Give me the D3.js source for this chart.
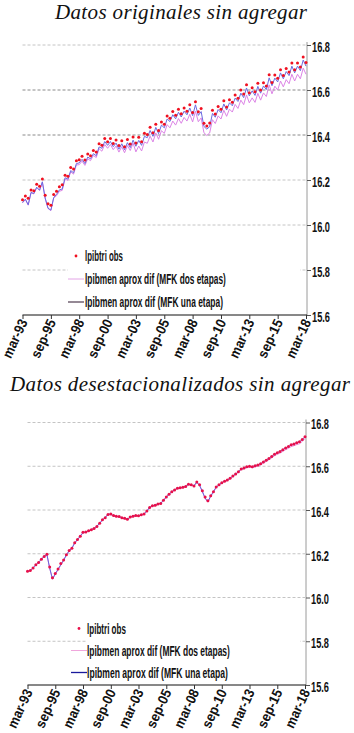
<!DOCTYPE html>
<html>
<head>
<meta charset="utf-8">
<script src="https://cdnjs.cloudflare.com/ajax/libs/d3/7.8.5/d3.min.js"></script>
<style>
    body { margin: 0; background: #fff; }
    svg { display: block; }
</style>
</head>
<body>
<div id="chart"></div>
<script>
// tick labels for the date axis (one every 30 months) and the value axis
const tickLabels = ["mar-93", "sep-95", "mar-98", "sep-00", "mar-03", "sep-05", "mar-08", "sep-10", "mar-13", "sep-15", "mar-18"];
const yTicks = [15.6, 15.8, 16.0, 16.2, 16.4, 16.6, 16.8];

// Panel 1: datos originales (quarterly points from mar-93 to mar-18)
const obsOriginal = [
    16.112, 16.129, 16.119, 16.156, 16.152, 16.181, 16.172, 16.204, 16.132, 16.094, 16.088, 16.136,
    16.150, 16.170, 16.179, 16.221, 16.217, 16.256, 16.249, 16.286, 16.290, 16.306, 16.289, 16.316,
    16.308, 16.331, 16.324, 16.361, 16.355, 16.385, 16.370, 16.385, 16.362, 16.378, 16.353, 16.375,
    16.348, 16.380, 16.360, 16.391, 16.364, 16.390, 16.370, 16.408, 16.402, 16.434, 16.410, 16.448,
    16.420, 16.458, 16.448, 16.485, 16.474, 16.504, 16.488, 16.515, 16.494, 16.520, 16.506, 16.534,
    16.500, 16.548, 16.503, 16.518, 16.452, 16.440, 16.453, 16.510, 16.493, 16.527, 16.515, 16.552,
    16.525, 16.557, 16.546, 16.578, 16.563, 16.600, 16.582, 16.623, 16.588, 16.610, 16.592, 16.630,
    16.600, 16.632, 16.618, 16.668, 16.633, 16.667, 16.652, 16.690, 16.664, 16.696, 16.680, 16.720,
    16.690, 16.720, 16.702, 16.747, 16.722
];
const dosEtapasOriginal = [
    16.098, 16.113, 16.088, 16.143, 16.138, 16.166, 16.153, 16.190, 16.118, 16.073, 16.064, 16.120,
    16.130, 16.150, 16.154, 16.204, 16.198, 16.236, 16.226, 16.267, 16.268, 16.284, 16.265, 16.294,
    16.286, 16.309, 16.300, 16.339, 16.328, 16.358, 16.341, 16.358, 16.335, 16.351, 16.324, 16.348,
    16.321, 16.353, 16.331, 16.364, 16.325, 16.351, 16.329, 16.369, 16.363, 16.395, 16.369, 16.409,
    16.381, 16.419, 16.407, 16.446, 16.432, 16.462, 16.444, 16.473, 16.452, 16.478, 16.462, 16.492,
    16.458, 16.506, 16.459, 16.476, 16.410, 16.398, 16.409, 16.468, 16.451, 16.485, 16.471, 16.510,
    16.483, 16.515, 16.502, 16.536, 16.518, 16.555, 16.535, 16.578, 16.543, 16.565, 16.545, 16.585,
    16.555, 16.587, 16.571, 16.623, 16.583, 16.617, 16.600, 16.640, 16.614, 16.646, 16.628, 16.670,
    16.640, 16.670, 16.650, 16.697, 16.670
];
const unaEtapaOriginal = [
    16.100, 16.115, 16.090, 16.145, 16.140, 16.168, 16.155, 16.192, 16.120, 16.075, 16.066, 16.122,
    16.136, 16.156, 16.160, 16.210, 16.204, 16.242, 16.232, 16.273, 16.276, 16.292, 16.273, 16.302,
    16.294, 16.317, 16.308, 16.347, 16.341, 16.371, 16.354, 16.371, 16.348, 16.364, 16.337, 16.361,
    16.334, 16.366, 16.344, 16.377, 16.350, 16.376, 16.354, 16.394, 16.388, 16.420, 16.394, 16.434,
    16.406, 16.444, 16.432, 16.471, 16.460, 16.490, 16.472, 16.501, 16.480, 16.506, 16.490, 16.520,
    16.486, 16.534, 16.487, 16.504, 16.438, 16.426, 16.437, 16.496, 16.479, 16.513, 16.499, 16.538,
    16.511, 16.543, 16.530, 16.564, 16.549, 16.586, 16.566, 16.609, 16.574, 16.596, 16.576, 16.616,
    16.586, 16.618, 16.602, 16.654, 16.619, 16.653, 16.636, 16.676, 16.650, 16.682, 16.664, 16.706,
    16.676, 16.706, 16.686, 16.733, 16.706
];

// Panel 2: datos desestacionalizados
const obsDesest = [
    16.120, 16.123, 16.135, 16.150, 16.160, 16.175, 16.188, 16.198, 16.140, 16.090, 16.110, 16.130,
    16.155, 16.172, 16.195, 16.215, 16.225, 16.250, 16.265, 16.280, 16.298, 16.300, 16.305, 16.310,
    16.316, 16.325, 16.340, 16.355, 16.365, 16.380, 16.382, 16.375, 16.372, 16.370, 16.365, 16.362,
    16.358, 16.368, 16.372, 16.375, 16.374, 16.378, 16.382, 16.395, 16.412, 16.420, 16.422, 16.428,
    16.430, 16.445, 16.460, 16.472, 16.484, 16.492, 16.500, 16.502, 16.504, 16.508, 16.518, 16.515,
    16.510, 16.528, 16.515, 16.488, 16.460, 16.442, 16.465, 16.484, 16.505, 16.515, 16.525, 16.532,
    16.537, 16.545, 16.556, 16.565, 16.575, 16.588, 16.592, 16.598, 16.600, 16.598, 16.602, 16.606,
    16.612, 16.620, 16.628, 16.636, 16.645, 16.655, 16.662, 16.668, 16.676, 16.684, 16.690, 16.698,
    16.702, 16.708, 16.712, 16.722, 16.735
];
const dosEtapasDesest = [
    16.118, 16.122, 16.134, 16.148, 16.159, 16.173, 16.187, 16.194, 16.133, 16.083, 16.106, 16.127,
    16.148, 16.169, 16.193, 16.212, 16.224, 16.248, 16.263, 16.279, 16.295, 16.298, 16.303, 16.309,
    16.314, 16.324, 16.338, 16.353, 16.364, 16.379, 16.379, 16.372, 16.369, 16.368, 16.363, 16.359,
    16.356, 16.366, 16.370, 16.373, 16.372, 16.376, 16.381, 16.394, 16.410, 16.418, 16.420, 16.426,
    16.429, 16.443, 16.458, 16.470, 16.482, 16.490, 16.498, 16.500, 16.502, 16.506, 16.516, 16.513,
    16.509, 16.526, 16.511, 16.483, 16.453, 16.436, 16.462, 16.482, 16.503, 16.513, 16.523, 16.530,
    16.534, 16.542, 16.553, 16.562, 16.572, 16.585, 16.588, 16.594, 16.596, 16.593, 16.597, 16.601,
    16.606, 16.614, 16.622, 16.630, 16.638, 16.648, 16.655, 16.660, 16.668, 16.676, 16.682, 16.690,
    16.694, 16.699, 16.703, 16.713, 16.727
];
const unaEtapaDesest = [
    16.120, 16.124, 16.136, 16.150, 16.161, 16.175, 16.189, 16.196, 16.135, 16.085, 16.108, 16.129,
    16.150, 16.171, 16.195, 16.214, 16.226, 16.250, 16.265, 16.281, 16.297, 16.300, 16.305, 16.311,
    16.316, 16.326, 16.340, 16.355, 16.366, 16.381, 16.381, 16.374, 16.371, 16.370, 16.365, 16.361,
    16.358, 16.368, 16.372, 16.375, 16.374, 16.378, 16.383, 16.396, 16.412, 16.420, 16.422, 16.428,
    16.431, 16.445, 16.460, 16.472, 16.484, 16.492, 16.500, 16.502, 16.504, 16.508, 16.518, 16.515,
    16.511, 16.528, 16.513, 16.485, 16.455, 16.438, 16.464, 16.484, 16.505, 16.515, 16.525, 16.532,
    16.537, 16.545, 16.556, 16.565, 16.575, 16.588, 16.592, 16.598, 16.600, 16.598, 16.602, 16.606,
    16.612, 16.620, 16.628, 16.636, 16.645, 16.655, 16.662, 16.668, 16.676, 16.684, 16.690, 16.698,
    16.702, 16.708, 16.712, 16.722, 16.735
];

const legendLabels = ["lpibtri obs", "lpibmen aprox dif (MFK dos etapas)", "lpibmen aprox dif (MFK una etapa)"];

const labelFont = "'Liberation Sans Narrow','Liberation Sans',Arial,sans-serif";

const svg = d3.select("#chart")
    .append("svg")
    .attr("width", 354)
    .attr("height", 733);

// squeeze a text horizontally so it takes the narrow width of the original font
function squeeze(sel, width, before) {
    sel.each(function () {
        const natural = this.getComputedTextLength();
        const s = natural > 0 ? width / natural : 1;
        d3.select(this).attr("transform", `${before} scale(${s},1)`);
    });
}

function styleLabel(sel, size) {
    sel.style("font-family", labelFont)
        .style("font-weight", "bold")
        .style("font-size", size + "px")
        .style("fill", "#111");
}

//Function to draw one panel
function createPanel(p) {

    const g = svg.append("g");

    const quarterDates = p.obs.map((d, i) => new Date(1993, 2 + 3 * i, 1));
    const tickDates = tickLabels.map((d, i) => new Date(1993, 2 + 30 * i, 1));

    const xScale = d3.scaleTime()
        .domain([new Date(1993, 2, 1), new Date(2018, 2, 1)])
        .range([p.left, p.right]);

    const yScale = d3.scaleLinear()
        .domain([15.6, 16.8])
        .range([p.bottom, p.top]);

    // title
    g.append("text")
        .attr("x", p.titleX)
        .attr("y", p.titleY)
        .attr("textLength", p.titleW)
        .attr("lengthAdjust", "spacing")
        .style("font-family", "'Liberation Serif','DejaVu Serif',serif")
        .style("font-style", "italic")
        .style("font-size", "21px")
        .style("fill", "#111")
        .text(p.title);

    // dashed gridlines
    g.selectAll(".grid")
        .data(yTicks.slice(1))
        .join("line")
        .attr("x1", p.left)
        .attr("x2", p.right)
        .attr("y1", d => yScale(d))
        .attr("y2", d => yScale(d))
        .attr("stroke", d => p.darkGrid.includes(d) ? "#8a8a8a" : "#c4c4c4")
        .attr("stroke-width", 1)
        .attr("stroke-dasharray", "3,2");

    // value axis on the right
    const yAxis = d3.axisRight(yScale)
        .tickValues(yTicks)
        .tickSize(4)
        .tickFormat(d3.format(".1f"));

    const yAxisG = g.append("g")
        .attr("transform", `translate(${p.right + 1},0)`)
        .call(yAxis);

    yAxisG.select(".domain")
        .attr("stroke", "#9a9a9a")
        .attr("d", `M0,${p.top - 3}V${p.bottom}`);
    yAxisG.selectAll(".tick line").attr("stroke", "#555");
    yAxisG.selectAll(".tick text")
        .attr("x", 0)
        .attr("dy", "0.45em")
        .style("text-anchor", "start")
        .call(styleLabel, 14)
        .call(squeeze, 18, "translate(5,0)");

    // legend box
    const lg = g.append("g");
    lg.append("rect")
        .attr("x", p.legBoxX)
        .attr("y", p.legY - 10)
        .attr("width", 300 - p.legBoxX)
        .attr("height", 2 * p.legStep + 20)
        .attr("fill", "#fff");

    lg.append("circle")
        .attr("cx", p.legSymX + 8)
        .attr("cy", p.legY)
        .attr("r", 1.4)
        .attr("fill", p.dotColor);

    lg.append("line")
        .attr("x1", p.legSymX)
        .attr("x2", p.legSymX + 16)
        .attr("y1", p.legY + p.legStep)
        .attr("y2", p.legY + p.legStep)
        .attr("stroke", p.legDosColor)
        .attr("stroke-width", 1);

    lg.append("line")
        .attr("x1", p.legSymX)
        .attr("x2", p.legSymX + 16)
        .attr("y1", p.legY + 2 * p.legStep)
        .attr("y2", p.legY + 2 * p.legStep)
        .attr("stroke", p.legUnaColor)
        .attr("stroke-width", 1.3);

    lg.selectAll(".legText")
        .data(legendLabels)
        .join("text")
        .attr("dy", "0.38em")
        .call(styleLabel, 14)
        .text(d => d)
        .each(function (d, i) {
            d3.select(this).call(squeeze, p.legTextW[i], `translate(${p.legTextX},${p.legY + i * p.legStep})`);
        });

    // date axis
    const xAxis = d3.axisBottom(xScale)
        .tickValues(tickDates)
        .tickSize(4)
        .tickFormat((d, i) => tickLabels[i]);

    const xAxisG = g.append("g")
        .attr("transform", `translate(0,${p.bottom})`)
        .call(xAxis);

    xAxisG.select(".domain")
        .attr("stroke", "#111")
        .attr("d", `M${p.left},0H${p.right + 1}`);
    xAxisG.selectAll(".tick line").attr("stroke", "#333");
    xAxisG.selectAll(".tick text")
        .attr("y", 0)
        .attr("dy", 0)
        .style("text-anchor", "end")
        .call(styleLabel, 14)
        .call(squeeze, 41, "translate(5,7) rotate(-65)");

    // lines
    const line = d3.line()
        .x((d, i) => xScale(quarterDates[i]))
        .y(d => yScale(d));

    g.append("path")
        .datum(p.dos)
        .attr("d", line)
        .attr("fill", "none")
        .attr("stroke", p.dosColor)
        .attr("stroke-width", 1);

    g.append("path")
        .datum(p.una)
        .attr("d", line)
        .attr("fill", "none")
        .attr("stroke", p.unaColor)
        .attr("stroke-width", 1);

    // observed quarterly points
    g.selectAll(".obs")
        .data(p.obs)
        .join("circle")
        .attr("cx", (d, i) => xScale(quarterDates[i]))
        .attr("cy", d => yScale(d))
        .attr("r", p.dotR)
        .attr("fill", p.dotColor);
}

createPanel({
    title: "Datos originales sin agregar",
    titleX: 55, titleY: 19, titleW: 252,
    left: 22.5, right: 306, top: 45, bottom: 315,
    darkGrid: [16.4, 16.6],
    obs: obsOriginal, dos: dosEtapasOriginal, una: unaEtapaOriginal,
    dotColor: "#f01020", dotR: 1.5,
    dosColor: "#dc84e6", unaColor: "#6b6be0",
    legBoxX: 68, legSymX: 68, legTextX: 85, legY: 256, legStep: 23,
    legTextW: [38, 141, 138],
    legDosColor: "#e3a4e6", legUnaColor: "#5c4a5c"
});

createPanel({
    title: "Datos desestacionalizados sin agregar",
    titleX: 10, titleY: 391, titleW: 340,
    left: 27.5, right: 305, top: 422.5, bottom: 685,
    darkGrid: [],
    obs: obsDesest, dos: dosEtapasDesest, una: unaEtapaDesest,
    dotColor: "#e8104a", dotR: 1.5,
    dosColor: "#e58ae0", unaColor: "#6a62dc",
    legBoxX: 86, legSymX: 71, legTextX: 87, legY: 628.5, legStep: 22,
    legTextW: [39, 143, 141],
    legDosColor: "#f0a6dc", legUnaColor: "#1a1a9c"
});
</script>
</body>
</html>
